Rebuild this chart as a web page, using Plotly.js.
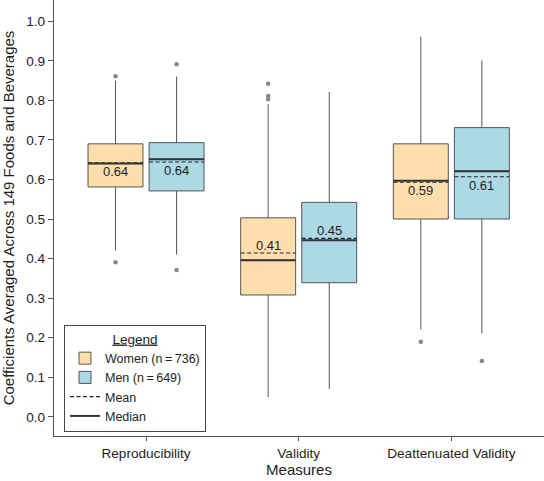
<!DOCTYPE html>
<html><head><meta charset="utf-8">
<script src="https://cdn.plot.ly/plotly-3.0.1.min.js"></script>
<style>html,body{margin:0;padding:0;background:#fff}#chart{width:544px;height:481px}</style>
</head><body><div id="chart"></div>
<script>
// ---- data ----
const categories = ['Reproducibility', 'Validity', 'Deattenuated Validity'];

const womenLowerFence = [0.420, 0.050, 0.221];
const womenQ1         = [0.581, 0.308, 0.500];
const womenMedian     = [0.640, 0.396, 0.597];
const womenMean       = [0.642, 0.414, 0.593];
const womenQ3         = [0.690, 0.503, 0.690];
const womenUpperFence = [0.850, 0.791, 0.961];
const womenOutliers   = [[0.861, 0.391], [0.842, 0.811, 0.803], [0.190]];

const menLowerFence = [0.410, 0.071, 0.211];
const menQ1         = [0.571, 0.339, 0.500];
const menMedian     = [0.651, 0.446, 0.621];
const menMean       = [0.644, 0.451, 0.607];
const menQ3         = [0.693, 0.542, 0.731];
const menUpperFence = [0.860, 0.821, 0.901];
const menOutliers   = [[0.891, 0.371], [], [0.141]];

const womenName = 'Women (n\u2009=\u2009736)';
const menName   = 'Men (n\u2009=\u2009649)';

// ---- layout constants ----
const OFF = 0.2, BW = 0.36, HALF = BW / 2;
const labelAbove = [false, true, false];
const FONT = 'Liberation Sans, Arial, Helvetica, sans-serif';
const LINE = '#555555';
const TXT = '#1e1e1e';

const groups = [
  {name: womenName, fill: '#FFDEAD', dx: -OFF, lf: womenLowerFence, q1: womenQ1, med: womenMedian, mean: womenMean, q3: womenQ3, uf: womenUpperFence, out: womenOutliers},
  {name: menName,   fill: '#ADD8E6', dx:  OFF, lf: menLowerFence,   q1: menQ1,   med: menMedian,   mean: menMean,   q3: menQ3,   uf: menUpperFence,   out: menOutliers}
];

const traces = [];
groups.forEach(g => {
  traces.push({
    type: 'box', name: g.name,
    x: categories.map((c, i) => i + g.dx),
    q1: g.q1, median: g.med, q3: g.q3, lowerfence: g.lf, upperfence: g.uf,
    width: BW, whiskerwidth: 0, boxpoints: false,
    fillcolor: g.fill, line: {color: LINE, width: 1},
    hoverinfo: 'skip'
  });
});

function segs(key) {
  const xs = [], ys = [];
  groups.forEach(g => {
    categories.forEach((c, i) => {
      const cx = i + g.dx;
      xs.push(cx - HALF, cx + HALF, null);
      ys.push(g[key][i], g[key][i], null);
    });
  });
  return {xs, ys};
}
const meanS = segs('mean');
traces.push({
  type: 'scatter', mode: 'lines', name: 'Mean',
  x: meanS.xs, y: meanS.ys,
  line: {color: '#222222', width: 1.1, dash: '4px,2.5px'},
  hoverinfo: 'skip'
});
const medS = segs('med');
traces.push({
  type: 'scatter', mode: 'lines', name: 'Median',
  x: medS.xs, y: medS.ys,
  line: {color: '#333333', width: 2},
  hoverinfo: 'skip'
});

const annotations = [];
groups.forEach(g => {
  const ox = [], oy = [];
  g.out.forEach((arr, i) => arr.forEach(v => { ox.push(i + g.dx); oy.push(v); }));
  traces.push({
    type: 'scatter', mode: 'markers', showlegend: false,
    x: ox, y: oy, marker: {color: '#888888', size: 4.5},
    hoverinfo: 'skip'
  });
  categories.forEach((c, i) => {
    annotations.push({
      xref: 'x', yref: 'y', x: i + g.dx, y: g.mean[i],
      text: g.mean[i].toFixed(2), showarrow: false,
      yshift: labelAbove[i] ? 8 : -8.5,
      xanchor: 'center', yanchor: 'middle',
      font: {family: FONT, size: 13, color: TXT}
    });
  });
});

const layout = {
  width: 544, height: 481,
  margin: {l: 54, r: 0, t: 0, b: 45},
  paper_bgcolor: '#ffffff', plot_bgcolor: '#ffffff',
  font: {family: FONT, color: TXT},
  showlegend: true,
  annotations: annotations,
  legend: {
    x: 0.0204, y: 0.2546, xanchor: 'left', yanchor: 'top',
    bgcolor: '#ffffff', bordercolor: '#444444', borderwidth: 1,
    font: {family: FONT, size: 12.5, color: TXT},
    title: {text: '<u>Legend</u>', side: 'top center', font: {family: FONT, size: 13.5, color: TXT}},
    tracegroupgap: 0, itemwidth: 30
  },
  xaxis: {
    range: [-0.603, 2.607],
    tickmode: 'array', tickvals: categories.map((c, i) => i), ticktext: categories,
    showgrid: false, zeroline: false,
    showline: true, linecolor: LINE, linewidth: 1.2,
    ticks: 'outside', ticklen: 4, tickcolor: LINE,
    tickfont: {family: FONT, size: 13.6, color: TXT},
    title: {text: 'Measures', font: {family: FONT, size: 15, color: TXT}, standoff: 2}
  },
  yaxis: {
    range: [-0.0485, 1.0536],
    dtick: 0.1, tick0: 0, tickformat: '.1f',
    showgrid: false, zeroline: false,
    showline: true, linecolor: LINE, linewidth: 1.2,
    ticks: 'outside', ticklen: 5, tickcolor: LINE,
    tickfont: {family: FONT, size: 13.6, color: TXT},
    title: {text: 'Coefficients Averaged Across 149 Foods and Beverages', font: {family: FONT, size: 15, color: TXT}, standoff: 8}
  }
};

Plotly.newPlot('chart', traces, layout, {displayModeBar: false, staticPlot: true});
</script>
</body></html>
